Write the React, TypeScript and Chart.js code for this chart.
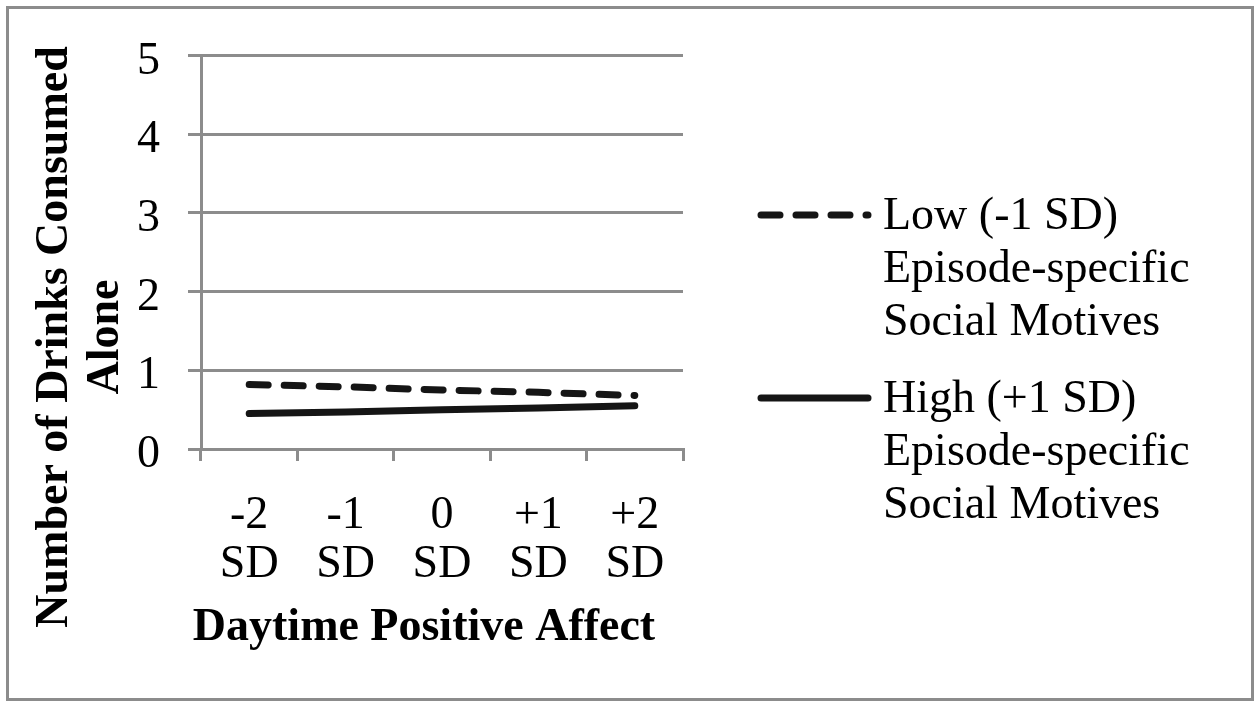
import React, { useEffect, useRef } from "react";
import { Chart, registerables } from "chart.js";

Chart.register(...registerables);

const categories = [["-2", "SD"], ["-1", "SD"], ["0", "SD"], ["+1", "SD"], ["+2", "SD"]];
const lowSocialMotives = [0.82, 0.79, 0.75, 0.72, 0.68];
const highSocialMotives = [0.45, 0.47, 0.5, 0.52, 0.55];
const yMin = 0;
const yMax = 5;
const yStep = 1;
const lowLabel = ["Low (-1 SD)", "Episode-specific", "Social Motives"];
const highLabel = ["High (+1 SD)", "Episode-specific", "Social Motives"];
const xTitle = "Daytime Positive Affect";
const yTitle = ["Number of Drinks Consumed", "Alone"];

const FONT = "'Liberation Serif', 'Times New Roman', serif";
const GRAY = "#8c8c8c";
const DASH = [19, 16];

const decor = {
  id: "decor",
  beforeDraw(chart: any) {
    const { ctx, width, height } = chart;
    ctx.save();
    ctx.fillStyle = "#ffffff";
    ctx.fillRect(0, 0, width, height);
    ctx.strokeStyle = GRAY;
    ctx.lineWidth = 3;
    ctx.strokeRect(7.5, 7.5, width - 15, height - 15);
    ctx.restore();
  },
  afterDraw(chart: any) {
    const { ctx } = chart;
    // x-axis title
    ctx.save();
    ctx.fillStyle = "#000";
    ctx.font = `bold 46px ${FONT}`;
    ctx.textAlign = "center";
    ctx.textBaseline = "middle";
    ctx.fillText(xTitle, 424, 628);
    ctx.restore();

    // y-axis title
    ctx.save();
    ctx.fillStyle = "#000";
    ctx.font = `bold 46px ${FONT}`;
    ctx.textAlign = "center";
    ctx.textBaseline = "middle";
    ctx.translate(55, 337);
    ctx.rotate(-Math.PI / 2);
    ctx.fillText(yTitle[0], 0, 0);
    ctx.fillText(yTitle[1], 0, 51);
    ctx.restore();

    // legend
    const items = [
      { labels: lowLabel, ds: chart.data.datasets[0], y: 215 },
      { labels: highLabel, ds: chart.data.datasets[1], y: 398 },
    ];
    ctx.save();
    items.forEach((it) => {
      ctx.strokeStyle = it.ds.borderColor;
      ctx.lineWidth = it.ds.borderWidth;
      ctx.lineCap = "round";
      ctx.setLineDash(it.ds.borderDash || []);
      ctx.beginPath();
      ctx.moveTo(761, it.y);
      ctx.lineTo(868, it.y);
      ctx.stroke();
      ctx.setLineDash([]);
      ctx.fillStyle = "#000";
      ctx.font = `46px ${FONT}`;
      ctx.textAlign = "left";
      ctx.textBaseline = "middle";
      it.labels.forEach((t: string, i: number) => {
        ctx.fillText(t, 883, it.y + 2 + i * 53);
      });
    });
    ctx.restore();
  },
};

export default function App() {
  const ref = useRef<HTMLCanvasElement>(null);
  useEffect(() => {
    document.body.style.margin = "0";
    const chart = new Chart(ref.current as HTMLCanvasElement, {
      type: "line",
      data: {
        labels: categories,
        datasets: [
          {
            label: lowLabel.join(" "),
            data: lowSocialMotives,
            borderColor: "#151515",
            borderWidth: 7,
            borderDash: DASH,
            borderCapStyle: "round",
            pointRadius: 0,
            tension: 0,
            fill: false,
          },
          {
            label: highLabel.join(" "),
            data: highSocialMotives,
            borderColor: "#151515",
            borderWidth: 7,
            borderCapStyle: "round",
            pointRadius: 0,
            tension: 0,
            fill: false,
          },
        ],
      },
      options: {
        animation: false,
        responsive: false,
        layout: { padding: { left: 91, right: 577, top: 52, bottom: 0 } },
        plugins: { legend: { display: false }, tooltip: { enabled: false } },
        scales: {
          x: {
            offset: true,
            afterFit(scale: any) {
              scale.height = 258;
            },
            grid: {
              drawOnChartArea: false,
              drawTicks: true,
              tickLength: 12,
              color: GRAY,
              lineWidth: 3,
              offset: true,
            },
            border: { display: true, color: GRAY, width: 3 },
            ticks: {
              color: "#000",
              font: { family: FONT, size: 46, lineHeight: 1.07 },
              maxRotation: 0,
              autoSkip: false,
              padding: 30,
            },
          },
          y: {
            min: yMin,
            max: yMax,
            afterFit(scale: any) {
              scale.width = 110;
            },
            grid: {
              color: GRAY,
              lineWidth: 3,
              tickLength: 13,
              drawTicks: true,
            },
            border: { display: true, color: GRAY, width: 3 },
            ticks: {
              stepSize: yStep,
              color: "#000",
              font: { family: FONT, size: 46 },
              padding: 28,
              labelOffset: 6,
            },
          },
        },
      },
      plugins: [decor],
    });
    return () => chart.destroy();
  }, []);
  return <canvas ref={ref} width={1260} height={707} style={{ display: "block" }} />;
}
